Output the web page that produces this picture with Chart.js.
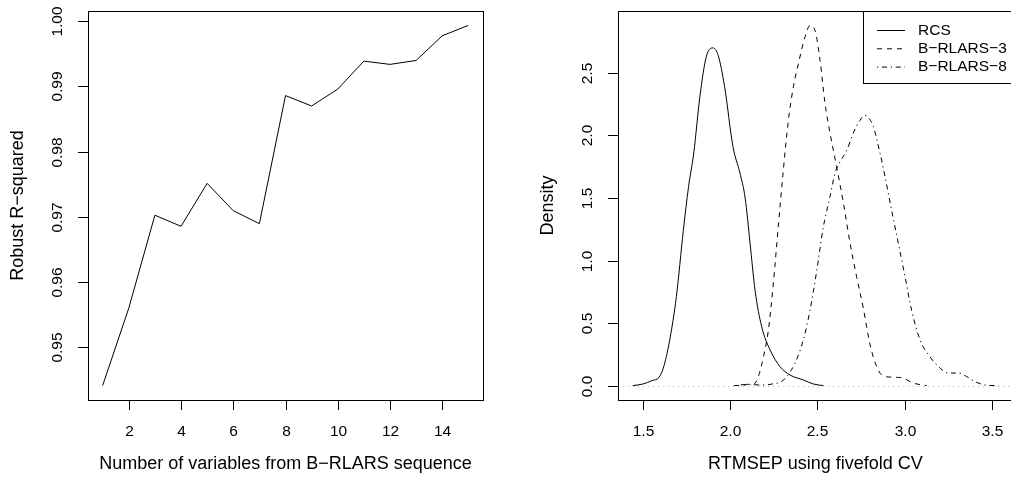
<!DOCTYPE html>
<html>
<head>
<meta charset="utf-8">
<script src="https://cdn.jsdelivr.net/npm/chart.js@4.4.1/dist/chart.umd.min.js"></script>
<style>
  html, body { margin: 0; padding: 0; background: #fff; overflow: hidden; width: 1011px; height: 484px; }
  #izq { position: absolute; left: 0; top: 0; }
  #der { position: absolute; left: 506px; top: 0; }
</style>
</head>
<body>
<canvas id="izq" width="506" height="484"></canvas>
<canvas id="der" width="520" height="484"></canvas>
<script>
// panel izquierdo: R2 robusto segun numero de variables
const numVars = [1, 2, 3, 4, 5, 6, 7, 8, 9, 10, 11, 12, 13, 14, 15];
const r2Robusto = [0.9440, 0.9559, 0.9702, 0.9685, 0.9751, 0.9709, 0.9689, 0.9886, 0.9870, 0.9896, 0.9939, 0.9934, 0.9940, 0.9978, 0.9994];
const ticksIzqX = [2, 4, 6, 8, 10, 12, 14];
const ticksIzqY = [0.95, 0.96, 0.97, 0.98, 0.99, 1.00];

// panel derecho: densidades del RTMSEP
const rcsX = [1.44, 1.50, 1.55, 1.59, 1.615, 1.65, 1.69, 1.73, 1.76, 1.79, 1.825, 1.862, 1.90, 1.93, 1.967, 2.015, 2.055, 2.085, 2.113, 2.142, 2.18, 2.228, 2.285, 2.342, 2.419, 2.476, 2.534];
const rcsY = [0, 0.013, 0.04, 0.065, 0.14, 0.35, 0.71, 1.24, 1.59, 1.86, 2.31, 2.63, 2.70, 2.64, 2.39, 1.91, 1.70, 1.50, 1.14, 0.76, 0.47, 0.285, 0.152, 0.085, 0.045, 0.013, 0];
const b3X = [2.02, 2.08, 2.11, 2.132, 2.16, 2.19, 2.218, 2.247, 2.275, 2.304, 2.333, 2.362, 2.39, 2.429, 2.457, 2.486, 2.515, 2.543, 2.572, 2.61, 2.649, 2.687, 2.725, 2.763, 2.80, 2.84, 2.878, 2.936, 2.993, 3.05, 3.127];
const b3Y = [0, 0.004, 0.012, 0.01, 0.07, 0.23, 0.44, 0.82, 1.27, 1.72, 2.12, 2.39, 2.57, 2.79, 2.88, 2.84, 2.60, 2.26, 2.02, 1.75, 1.46, 1.14, 0.87, 0.62, 0.34, 0.15, 0.077, 0.067, 0.059, 0.02, 0];
const b8X = [2.03, 2.10, 2.18, 2.25, 2.29, 2.323, 2.371, 2.419, 2.457, 2.496, 2.534, 2.572, 2.601, 2.63, 2.668, 2.706, 2.744, 2.773, 2.80, 2.821, 2.859, 2.888, 2.926, 2.964, 3.003, 3.041, 3.089, 3.146, 3.204, 3.251, 3.309, 3.357, 3.404, 3.471, 3.539];
const b8Y = [0, 0.01, 0.004, 0.015, 0.03, 0.07, 0.18, 0.365, 0.60, 0.92, 1.27, 1.51, 1.70, 1.79, 1.88, 2.02, 2.12, 2.16, 2.13, 2.07, 1.86, 1.67, 1.40, 1.14, 0.87, 0.60, 0.365, 0.23, 0.14, 0.10, 0.10, 0.072, 0.032, 0.003, 0];
const ticksDerX = [1.5, 2.0, 2.5, 3.0, 3.5];
const ticksDerY = [0.0, 0.5, 1.0, 1.5, 2.0, 2.5];
const nombres = ['RCS', 'B\u2212RLARS\u22123', 'B\u2212RLARS\u22128'];

const fuente = '"Liberation Sans", Arial, sans-serif';

function puntos(xs, ys) {
  return xs.map((v, i) => ({ x: v, y: ys[i] }));
}

// ejes al estilo de R: caja, marcas hacia fuera y etiquetas en Y giradas
const ejesR = {
  id: 'ejesR',
  beforeDatasetsDraw(chart, args, opts) {
    if (opts.lineaCero === undefined) return;
    const c = chart.ctx, a = chart.chartArea;
    const py = Math.round(chart.scales.y.getPixelForValue(opts.lineaCero)) + 0.5;
    c.save();
    c.strokeStyle = '#bebebe';
    c.lineWidth = 1;
    c.setLineDash([1.25, 3.75]);
    c.beginPath(); c.moveTo(a.left, py); c.lineTo(a.right, py); c.stroke();
    c.restore();
  },
  afterDraw(chart, args, opts) {
    const c = chart.ctx, a = chart.chartArea;
    const sx = chart.scales.x, sy = chart.scales.y;
    c.save();
    c.strokeStyle = '#000';
    c.fillStyle = '#000';
    c.lineWidth = 1;
    c.strokeRect(a.left + 0.5, a.top + 0.5, a.right - a.left, a.bottom - a.top);
    c.font = '15.5px ' + fuente;
    c.textAlign = 'center';
    c.textBaseline = 'middle';
    opts.ticksX.forEach(v => {
      const px = Math.round(sx.getPixelForValue(v)) + 0.5;
      c.beginPath(); c.moveTo(px, a.bottom); c.lineTo(px, a.bottom + 10); c.stroke();
      c.fillText(v.toFixed(opts.decX), px, a.bottom + 32);
    });
    opts.ticksY.forEach(v => {
      const py = Math.round(sy.getPixelForValue(v)) + 0.5;
      c.beginPath(); c.moveTo(a.left, py); c.lineTo(a.left - 10, py); c.stroke();
      c.save();
      c.translate(a.left - 30, py);
      c.rotate(-Math.PI / 2);
      c.fillText(v.toFixed(opts.decY), 0, 0);
      c.restore();
    });
    c.font = '18px ' + fuente;
    c.fillText(opts.tituloX, (a.left + a.right) / 2, a.bottom + 64);
    c.save();
    c.translate(a.left - 70, (a.top + a.bottom) / 2);
    c.rotate(-Math.PI / 2);
    c.fillText(opts.tituloY, 0, 0);
    c.restore();
    c.restore();
  }
};

// leyenda en la esquina superior derecha
const leyendaR = {
  id: 'leyendaR',
  afterDraw(chart, args, opts) {
    if (!opts.mostrar) return;
    const c = chart.ctx, a = chart.chartArea;
    const x0 = a.right - 150, y0 = a.top;
    c.save();
    c.strokeStyle = '#000';
    c.lineWidth = 1;
    c.strokeRect(Math.round(x0) + 0.5, y0 + 0.5, 160, 72);
    c.font = '15.5px ' + fuente;
    c.fillStyle = '#000';
    c.textAlign = 'left';
    c.textBaseline = 'middle';
    chart.data.datasets.forEach((ds, i) => {
      const yy = y0 + 19.5 + i * 18.3;
      c.setLineDash(ds.borderDash || []);
      c.beginPath(); c.moveTo(x0 + 14, yy); c.lineTo(x0 + 42, yy); c.stroke();
      c.setLineDash([]);
      c.fillText(ds.label, x0 + 55, yy);
    });
    c.restore();
  }
};

const ctx1 = document.getElementById('izq').getContext('2d');
const grafIzq = new Chart(ctx1, {
  type: 'line',
  data: {
    datasets: [{
      label: 'R2',
      data: puntos(numVars, r2Robusto),
      borderColor: '#000',
      borderWidth: 1,
      pointRadius: 0,
      tension: 0,
      fill: false
    }]
  },
  options: {
    responsive: false,
    animation: false,
    devicePixelRatio: 1,
    layout: { padding: { left: 88, top: 11, right: 23, bottom: 84 } },
    plugins: {
      legend: { display: false },
      tooltip: { enabled: false },
      ejesR: {
        ticksX: ticksIzqX, ticksY: ticksIzqY, decX: 0, decY: 2,
        tituloX: 'Number of variables from B\u2212RLARS sequence',
        tituloY: 'Robust R\u2212squared'
      },
      leyendaR: { mostrar: false }
    },
    scales: {
      x: { type: 'linear', min: 0.44, max: 15.56, display: false },
      y: { type: 'linear', min: 0.94178, max: 1.00161, display: false }
    }
  },
  plugins: [ejesR, leyendaR]
});

const ctx2 = document.getElementById('der').getContext('2d');
const grafDer = new Chart(ctx2, {
  type: 'line',
  data: {
    datasets: [
      { label: nombres[0], data: puntos(rcsX, rcsY), borderColor: '#000', borderWidth: 1, pointRadius: 0, cubicInterpolationMode: 'monotone', fill: false },
      { label: nombres[1], data: puntos(b3X, b3Y), borderColor: '#000', borderWidth: 1, borderDash: [5, 5], pointRadius: 0, cubicInterpolationMode: 'monotone', fill: false },
      { label: nombres[2], data: puntos(b8X, b8Y), borderColor: '#000', borderWidth: 1, borderDash: [1.25, 3.75, 5, 3.75], pointRadius: 0, cubicInterpolationMode: 'monotone', fill: false }
    ]
  },
  options: {
    responsive: false,
    animation: false,
    devicePixelRatio: 1,
    layout: { padding: { left: 112, top: 11, right: 13, bottom: 84 } },
    plugins: {
      legend: { display: false },
      tooltip: { enabled: false },
      ejesR: {
        ticksX: ticksDerX, ticksY: ticksDerY, decX: 1, decY: 1,
        tituloX: 'RTMSEP using fivefold CV',
        tituloY: 'Density',
        lineaCero: 0
      },
      leyendaR: { mostrar: true }
    },
    scales: {
      x: { type: 'linear', min: 1.355, max: 3.6226, display: false },
      y: { type: 'linear', min: -0.1152, max: 2.995, display: false }
    }
  },
  plugins: [ejesR, leyendaR]
});
</script>
</body>
</html>
